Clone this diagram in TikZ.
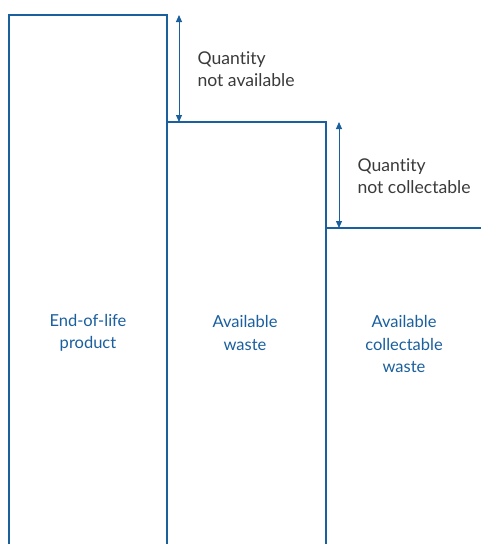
\documentclass[tikz,border=0pt]{standalone}
\usepackage{fontspec}
\setmainfont{Lato}[Ligatures=NoCommon]
\usetikzlibrary{arrows.meta}
\definecolor{eublue}{HTML}{1A5F9E}
\definecolor{txtgray}{HTML}{3A3A3A}
\begin{document}
\begin{tikzpicture}[x=1pt,y=-1pt,
  boxline/.style={draw=eublue,line width=1.3pt},
  dimarrow/.style={draw=eublue,line width=1pt,{Triangle[length=7pt,width=6pt]}-{Triangle[length=7pt,width=6pt]}},
  boxlabel/.style={text=eublue,font=\fontsize{16.5}{22.5}\selectfont,align=center},
  sidelabel/.style={text=txtgray,font=\fontsize{17.6}{22.5}\selectfont,align=left,anchor=west}]
\useasboundingbox (0,0) rectangle (481,544);
% steps
\draw[boxline] (9,546) -- (9,15) -- (167,15) -- (167,546);
\draw[boxline] (167,122) -- (326,122) -- (326,546);
\draw[boxline] (326,228) -- (482,228);
% dimension arrows
\coordinate (a1) at (179,15);
\coordinate (a2) at (179,122);
\coordinate (b1) at (339,122);
\coordinate (b2) at (339,228);
\draw[dimarrow] (a1) -- (a2);
\draw[dimarrow] (b1) -- (b2);
% labels
\node[sidelabel] (qna) at (194,69) {Quantity\\not available};
\node[sidelabel] (qnc) at (354,176) {Quantity\\not collectable};
\node[boxlabel] (eol) at (88,333) {End-of-life\\product};
\node[boxlabel] (aw) at (245,333) {Available\\waste};
\node[boxlabel] (acw) at (404,344) {Available\\collectable\\waste};
\end{tikzpicture}
\end{document}
